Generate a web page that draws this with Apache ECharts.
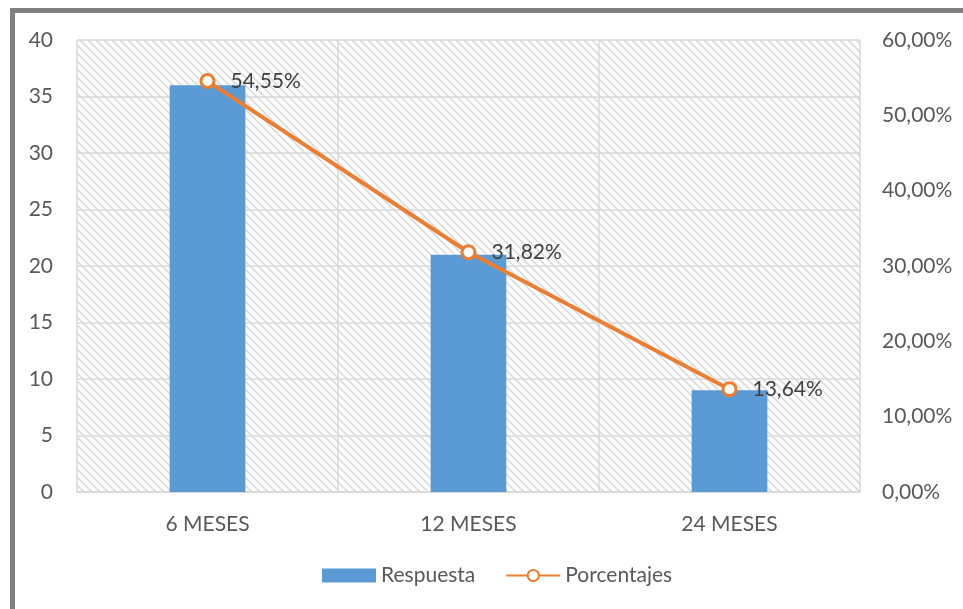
<!DOCTYPE html>
<html>
<head>
<meta charset="utf-8">
<script src="https://cdn.jsdelivr.net/npm/echarts@6/dist/echarts.min.js"></script>
<style>
  html, body { margin: 0; padding: 0; background: #fff; }
  #chart { width: 963px; height: 609px; }
</style>
</head>
<body>
<div id="chart"></div>
<script>
var categories = ["6 MESES", "12 MESES", "24 MESES"];
var respuesta = [36, 21, 9];
var porcentajes = [54.55, 31.82, 13.64];
var leftTicks = [0, 5, 10, 15, 20, 25, 30, 35, 40];
var rightTicks = [0, 10, 20, 30, 40, 50, 60];

// diagonal hatch used as plot background
function hatch() {
  var c = document.createElement("canvas");
  c.width = 8;
  c.height = 8;
  var g = c.getContext("2d");
  g.strokeStyle = "#dcdcdc";
  g.lineWidth = 1.8;
  g.beginPath();
  g.moveTo(-2, -2); g.lineTo(10, 10);
  g.moveTo(-2, 6); g.lineTo(2, 10);
  g.moveTo(6, -2); g.lineTo(10, 2);
  g.stroke();
  return c;
}

var font = "Lato, 'Liberation Sans', sans-serif";
var pct = function (v) { return v.toFixed(2).replace(".", ",") + "%"; };
var chart = echarts.init(document.getElementById("chart"));
chart.setOption({
  animation: false,
  textStyle: { fontFamily: font },
  graphic: [{
    type: "rect",
    shape: { x: 12.5, y: 10.5, width: 1000, height: 700 },
    style: { fill: "none", stroke: "#808080", lineWidth: 5 },
    z: 100
  }],
  grid: {
    left: 77, right: 103, top: 40, bottom: 117,
    show: true,
    borderWidth: 0,
    backgroundColor: { image: hatch(), repeat: "repeat" }
  },
  legend: {
    bottom: 18,
    left: 317,
    itemGap: 30,
    itemWidth: 54,
    itemHeight: 14,
    textStyle: { fontSize: 21, color: "#595959", fontFamily: font },
    data: [
      { name: "Respuesta", icon: "rect" },
      { name: "Porcentajes" }
    ]
  },
  xAxis: {
    type: "category",
    data: categories,
    axisTick: { show: false },
    axisLine: { lineStyle: { color: "#d9d9d9", width: 1.5 } },
    axisLabel: { fontSize: 21, color: "#595959", margin: 22, fontFamily: font },
    splitLine: { show: true, lineStyle: { color: "#d9d9d9", width: 1.5 } }
  },
  yAxis: [{
    type: "value",
    min: leftTicks[0],
    max: leftTicks[leftTicks.length - 1],
    interval: 5,
    axisLine: { show: false },
    axisTick: { show: false },
    axisLabel: { fontSize: 21, color: "#595959", margin: 24, fontFamily: font },
    splitLine: { lineStyle: { color: "#d9d9d9", width: 1.5 } }
  }, {
    type: "value",
    min: rightTicks[0],
    max: rightTicks[rightTicks.length - 1],
    interval: 10,
    axisLine: { show: false },
    axisTick: { show: false },
    splitLine: { show: false },
    axisLabel: {
      fontSize: 21, color: "#595959", margin: 22, fontFamily: font,
      formatter: pct
    }
  }],
  series: [{
    name: "Respuesta",
    type: "bar",
    data: respuesta,
    barWidth: "29%",
    itemStyle: { color: "#5b9bd5" },
    z: 2
  }, {
    name: "Porcentajes",
    type: "line",
    yAxisIndex: 1,
    data: porcentajes,
    symbol: "circle",
    symbolSize: 13,
    lineStyle: { color: "#ed7d31", width: 4 },
    itemStyle: { color: "#fff", borderColor: "#ed7d31", borderWidth: 3 },
    label: {
      show: true,
      position: "right",
      distance: 15,
      fontSize: 21,
      color: "#404040",
      fontFamily: font,
      formatter: function (p) { return pct(p.value); }
    },
    z: 3
  }]
});
</script>
</body>
</html>
